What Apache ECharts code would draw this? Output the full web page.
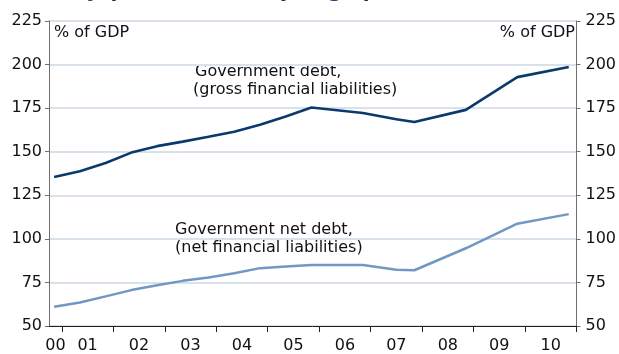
<!DOCTYPE html>
<html>
<head>
<meta charset="utf-8">
<script src="https://cdn.jsdelivr.net/npm/echarts@6/dist/echarts.min.js"></script>
<style>
html,body{margin:0;padding:0;background:#fff;}
#chart{width:619px;height:354px;}
</style>
</head>
<body>
<div id="chart"></div>
<script>
// Positions along the time axis (fractional years) and values (% of GDP)
var xPos = [2000.85, 2001.35, 2001.85, 2002.35, 2002.85, 2003.35, 2003.85, 2004.35, 2004.85, 2005.35, 2005.85, 2006.85, 2007.5, 2007.85, 2008.85, 2009.85, 2010.85];
var grossDebt = [135.5, 138.8, 143.5, 149.5, 153.2, 155.8, 158.6, 161.5, 165.5, 170.2, 175.4, 172.2, 168.6, 167.0, 174.0, 192.8, 198.6];
var netDebt = [61.0, 63.5, 67.0, 70.6, 73.4, 75.9, 77.8, 80.3, 83.2, 84.2, 85.0, 85.0, 82.3, 82.0, 94.6, 108.7, 114.2];
var yearTicks = [2001, 2002, 2003, 2004, 2005, 2006, 2007, 2008, 2009, 2010, 2011];
var yearLabelPos = [2000.875, 2001.5, 2002.5, 2003.5, 2004.5, 2005.5, 2006.5, 2007.5, 2008.5, 2009.5, 2010.5];
var yMin = 50, yMax = 225, yStep = 25;

function pairs(xs, ys) { return xs.map(function (x, i) { return [x, ys[i]]; }); }

var FONT = 'DejaVu Sans';
var chart = echarts.init(document.getElementById('chart'), null, {renderer: 'canvas'});
var yAxisCommon = {
  type: 'value', min: yMin, max: yMax, interval: yStep,
  axisLine: {show: true, lineStyle: {color: '#6f6f6f', width: 1}},
  axisTick: {show: true, inside: false, length: 4, lineStyle: {color: '#6f6f6f'}},
  axisLabel: {fontFamily: FONT, fontSize: 16, color: '#111'}
};
chart.setOption({
  animation: false,
  backgroundColor: '#fff',
  grid: {left: 49, right: 41, top: 21, bottom: 27, containLabel: false},
  xAxis: {
    type: 'value', min: 2000.75, max: 2011,
    splitLine: {show: false},
    axisLine: {show: true, onZero: false, lineStyle: {color: '#222', width: 1}},
    axisTick: {show: true, length: 6, customValues: yearTicks, lineStyle: {color: '#222'}},
    axisLabel: {
      customValues: yearLabelPos, fontFamily: FONT, fontSize: 16, color: '#111', margin: 12,
      formatter: function (v) { var y = Math.floor(v) % 100; return (y < 10 ? '0' : '') + y; }
    }
  },
  yAxis: [
    Object.assign({}, yAxisCommon, {
      position: 'left',
      splitLine: {show: true, lineStyle: {color: '#d9e2ea', width: 2}},
      axisLabel: Object.assign({}, yAxisCommon.axisLabel, {margin: 7})
    }),
    Object.assign({}, yAxisCommon, {
      position: 'right',
      splitLine: {show: false},
      axisLabel: Object.assign({}, yAxisCommon.axisLabel, {margin: 9})
    })
  ],
  series: [
    {
      type: 'line', name: 'Government debt', yAxisIndex: 0,
      data: pairs(xPos, grossDebt), showSymbol: false, symbol: 'none',
      lineStyle: {color: '#0a3a6c', width: 2.6}, z: 3
    },
    {
      type: 'line', name: 'Government net debt', yAxisIndex: 0,
      data: pairs(xPos, netDebt), showSymbol: false, symbol: 'none',
      lineStyle: {color: '#7297c4', width: 2.5}, z: 3
    }
  ],
  graphic: [
    {type: 'text', x: 490, y: -8, style: {text: 'Japan: historically huge public debt', font: 'bold 20px "' + FONT + '"', fill: '#0a3a6c', align: 'right', verticalAlign: 'middle'}},
    {type: 'text', x: 54, y: 33, style: {text: '% of GDP', font: '16px "' + FONT + '"', fill: '#111', align: 'left', verticalAlign: 'middle'}},
    {type: 'text', x: 575, y: 33, style: {text: '% of GDP', font: '16px "' + FONT + '"', fill: '#111', align: 'right', verticalAlign: 'middle'}},
    {type: 'text', x: 195, y: 72, style: {text: 'Government debt,', font: '16px "' + FONT + '"', fill: '#111', align: 'left', verticalAlign: 'middle'}},
    {type: 'text', x: 193, y: 90, style: {text: '(gross financial liabilities)', font: '16px "' + FONT + '"', fill: '#111', align: 'left', verticalAlign: 'middle'}},
    {type: 'text', x: 175, y: 230, style: {text: 'Government net debt,', font: '16px "' + FONT + '"', fill: '#111', align: 'left', verticalAlign: 'middle'}},
    {type: 'text', x: 175, y: 248, style: {text: '(net financial liabilities)', font: '16px "' + FONT + '"', fill: '#111', align: 'left', verticalAlign: 'middle'}}
  ]
});
</script>
</body>
</html>
